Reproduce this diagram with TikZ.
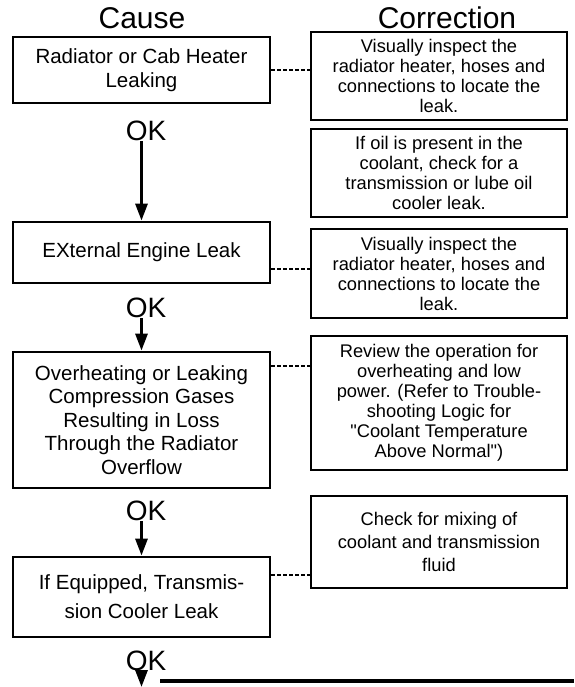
\documentclass[tikz,border=0pt]{standalone}
\usepackage{fontspec}
\setmainfont{Liberation Sans}[Ligatures=TeXOff]
\usetikzlibrary{arrows.meta,positioning}

\begin{document}
\begin{tikzpicture}[x=1pt,y=-1pt,
  cause/.style={draw,line width=2.8pt,minimum width=257pt,inner sep=2pt,align=center,font=\fontsize{20.5}{23.5}\selectfont},
  fix/.style={draw,line width=2.8pt,minimum width=256pt,inner sep=2pt,align=center,font=\fontsize{18.3}{20}\selectfont},
  head/.style={font=\fontsize{30}{32}\selectfont},
  ok/.style={font=\fontsize{28}{30}\selectfont,inner sep=0pt},
  flow/.style={-{Triangle[length=17pt,width=12pt]},line width=3pt},
  link/.style={line width=2pt,dash pattern=on 4pt off 2pt}]
  \useasboundingbox (0,0) rectangle (574,687);
  % headings
  \node[head] (hcause) at (142,18) {Cause};
  \node[head] (hcorr) at (447,18) {Correction};
  % Cause side
  \node[cause,minimum height=66pt] (cause1) at (141.5,70) {Radiator or Cab Heater\\Leaking};
  \node[ok] (ok1) at (146,131) {OK};
  \node[cause,minimum height=61pt] (cause2) at (141.5,252.5) {EXternal Engine Leak};
  \node[ok] (ok2) at (146,308) {OK};
  \node[cause,minimum height=136pt] (cause3) at (141.5,420)
    {Overheating or Leaking\\Compression Gases\\Resulting in Loss\\Through the Radiator\\Overflow};
  \node[ok] (ok3) at (146,511) {OK};
  \node[cause,minimum height=80pt,font=\fontsize{20.5}{29}\selectfont] (cause4) at (141.5,597)
    {If Equipped, Transmis-\\sion Cooler Leak};
  \node[ok] (ok4) at (146,661) {OK};
  \coordinate (end) at (141.5,687);
  \coordinate (railL) at (160,681);
  \coordinate (railR) at (574,681);
  % Correction side
  \node[fix,minimum height=88pt] (corr1) at (439,76)
    {Visually inspect the\\radiator heater, hoses and\\connections to locate the\\leak.};
  \node[fix,minimum height=88pt] (corr2) at (439,173)
    {If oil is present in the\\coolant, check for a\\transmission or lube oil\\cooler leak.};
  \node[fix,minimum height=89pt] (corr3) at (439,273.5)
    {Visually inspect the\\radiator heater, hoses and\\connections to locate the\\leak.};
  \node[fix,minimum height=134pt] (corr4) at (439,403)
    {Review the operation for\\overheating and low\\power. (Refer to Trouble-\\shooting Logic for\\"Coolant Temperature\\Above Normal")};
  \node[fix,minimum height=92pt,font=\fontsize{18.3}{23}\selectfont] (corr5) at (439,542)
    {Check for mixing of\\coolant and transmission\\fluid};
  % OK arrows
  \draw[flow] (ok1.south -| cause2.north) -- (cause2.north);
  \draw[flow] (ok2.south -| cause3.north) -- (cause3.north);
  \draw[flow] (ok3.south -| cause4.north) -- (cause4.north);
  \draw[flow] (ok4.south -| end) -- (end);
  \draw[line width=4.5pt] (railL) -- (railR);
  % dashed links
  \draw[link] (cause1.east) -- (cause1.east -| corr1.west);
  \draw[link] ([yshift=-16pt]cause2.east) -- ([yshift=-16pt]cause2.east -| corr3.west);
  \draw[link] ([yshift=-15pt]cause3.north east) -- ([yshift=-15pt]cause3.north east -| corr4.west);
  \draw[link] ([yshift=-19pt]cause4.north east) -- ([yshift=-19pt]cause4.north east -| corr5.west);
\end{tikzpicture}
\end{document}
